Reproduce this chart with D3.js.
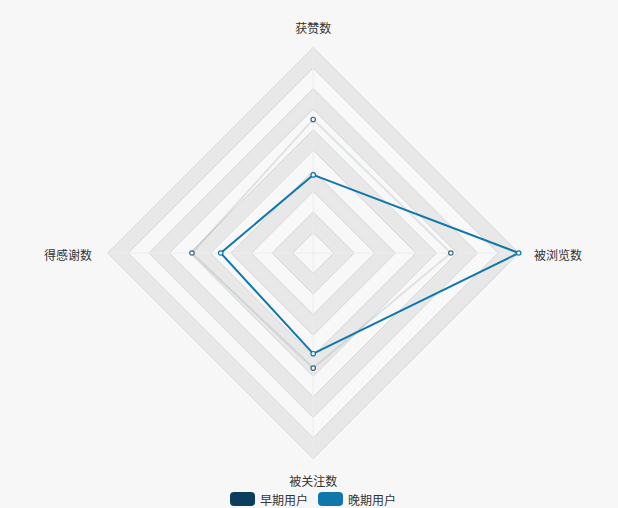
<!DOCTYPE html>
<html><head><meta charset="utf-8">
<script src="https://cdn.jsdelivr.net/npm/d3@7"></script>
<style>
html,body{margin:0;padding:0;background:#f7f7f7;}
svg{display:block;font-family:"Noto Sans CJK SC","Noto Sans",sans-serif;}
</style></head>
<body><svg id="c" width="618" height="508"></svg>
<script>
const indicators = ["获赞数", "得感谢数", "被关注数", "被浏览数"];
const indicatorMax = [100, 100, 100, 100];
const seriesNames = ["早期用户", "晚期用户"];
const earlyValues = [65, 59, 56, 67];
const lateValues = [38, 45, 49, 100];
const seriesColors = ["#0d3d5c", "#1077ab"];

const W = 618, H = 508, cx = 313.2, cy = 253, R = 205.5, splitN = 10;
const svg = d3.select("#c");
svg.append("rect").attr("width", W).attr("height", H).attr("fill", "#f7f7f7");

const n = indicators.length;
const angle = i => -Math.PI / 2 - i * 2 * Math.PI / n; // counter-clockwise from top
const rScale = indicators.map((d, i) => d3.scaleLinear().domain([0, indicatorMax[i]]).range([0, R]));
const pt = (i, r) => [cx + r * Math.cos(angle(i)), cy + r * Math.sin(angle(i))];

const g = svg.append("g");
for (let k = splitN; k >= 1; k--) {
  const r = R * k / splitN;
  const pts = indicators.map((d, i) => pt(i, r));
  g.append("path")
    .attr("d", d3.line()(pts) + "Z")
    .attr("fill", (k - 1) % 2 === 0 ? "#f8f8f8" : "#e8e8e8")
    .attr("stroke", "#d6d6d6").attr("stroke-width", 1);
}
indicators.forEach((d, i) => {
  const p = pt(i, R);
  g.append("line").attr("x1", cx).attr("y1", cy).attr("x2", p[0]).attr("y2", p[1])
    .attr("stroke", "#ececec").attr("stroke-width", 1);
});

const labelPos = [
  {x: cx, y: 27, anchor: "middle"},
  {x: 92, y: 254, anchor: "end"},
  {x: cx, y: 480, anchor: "middle"},
  {x: 534, y: 254, anchor: "start"}
];
indicators.forEach((d, i) => {
  svg.append("text").attr("x", labelPos[i].x).attr("y", labelPos[i].y)
    .attr("text-anchor", labelPos[i].anchor).attr("dominant-baseline", "central")
    .attr("font-size", 12).attr("fill", "#333").text(d);
});

function drawSeries(values, color, lineOpacity, lineWidth, markerOpacity) {
  const pts = values.map((v, i) => pt(i, rScale[i](v)));
  svg.append("path").attr("d", d3.line()(pts) + "Z")
    .attr("fill", "none").attr("stroke", color).attr("stroke-opacity", lineOpacity)
    .attr("stroke-width", lineWidth).attr("stroke-linejoin", "round");
  pts.forEach(p => {
    svg.append("circle").attr("cx", p[0]).attr("cy", p[1]).attr("r", 2.2)
      .attr("fill", "#fff").attr("stroke", color).attr("stroke-opacity", markerOpacity)
      .attr("stroke-width", 1.2);
  });
}
drawSeries(earlyValues, seriesColors[0], 0.11, 2, 0.8);
drawSeries(lateValues, seriesColors[1], 1, 2, 1);

const legend = svg.append("g");
let lx = 230;
seriesNames.forEach((s, i) => {
  legend.append("rect").attr("x", lx).attr("y", 492).attr("width", 25).attr("height", 14)
    .attr("rx", 4).attr("fill", seriesColors[i]);
  legend.append("text").attr("x", lx + 30).attr("y", 499.5).attr("dominant-baseline", "central")
    .attr("font-size", 12).attr("fill", "#333").text(s);
  lx += 25 + 5 + 48 + 10;
});
</script></body></html>
